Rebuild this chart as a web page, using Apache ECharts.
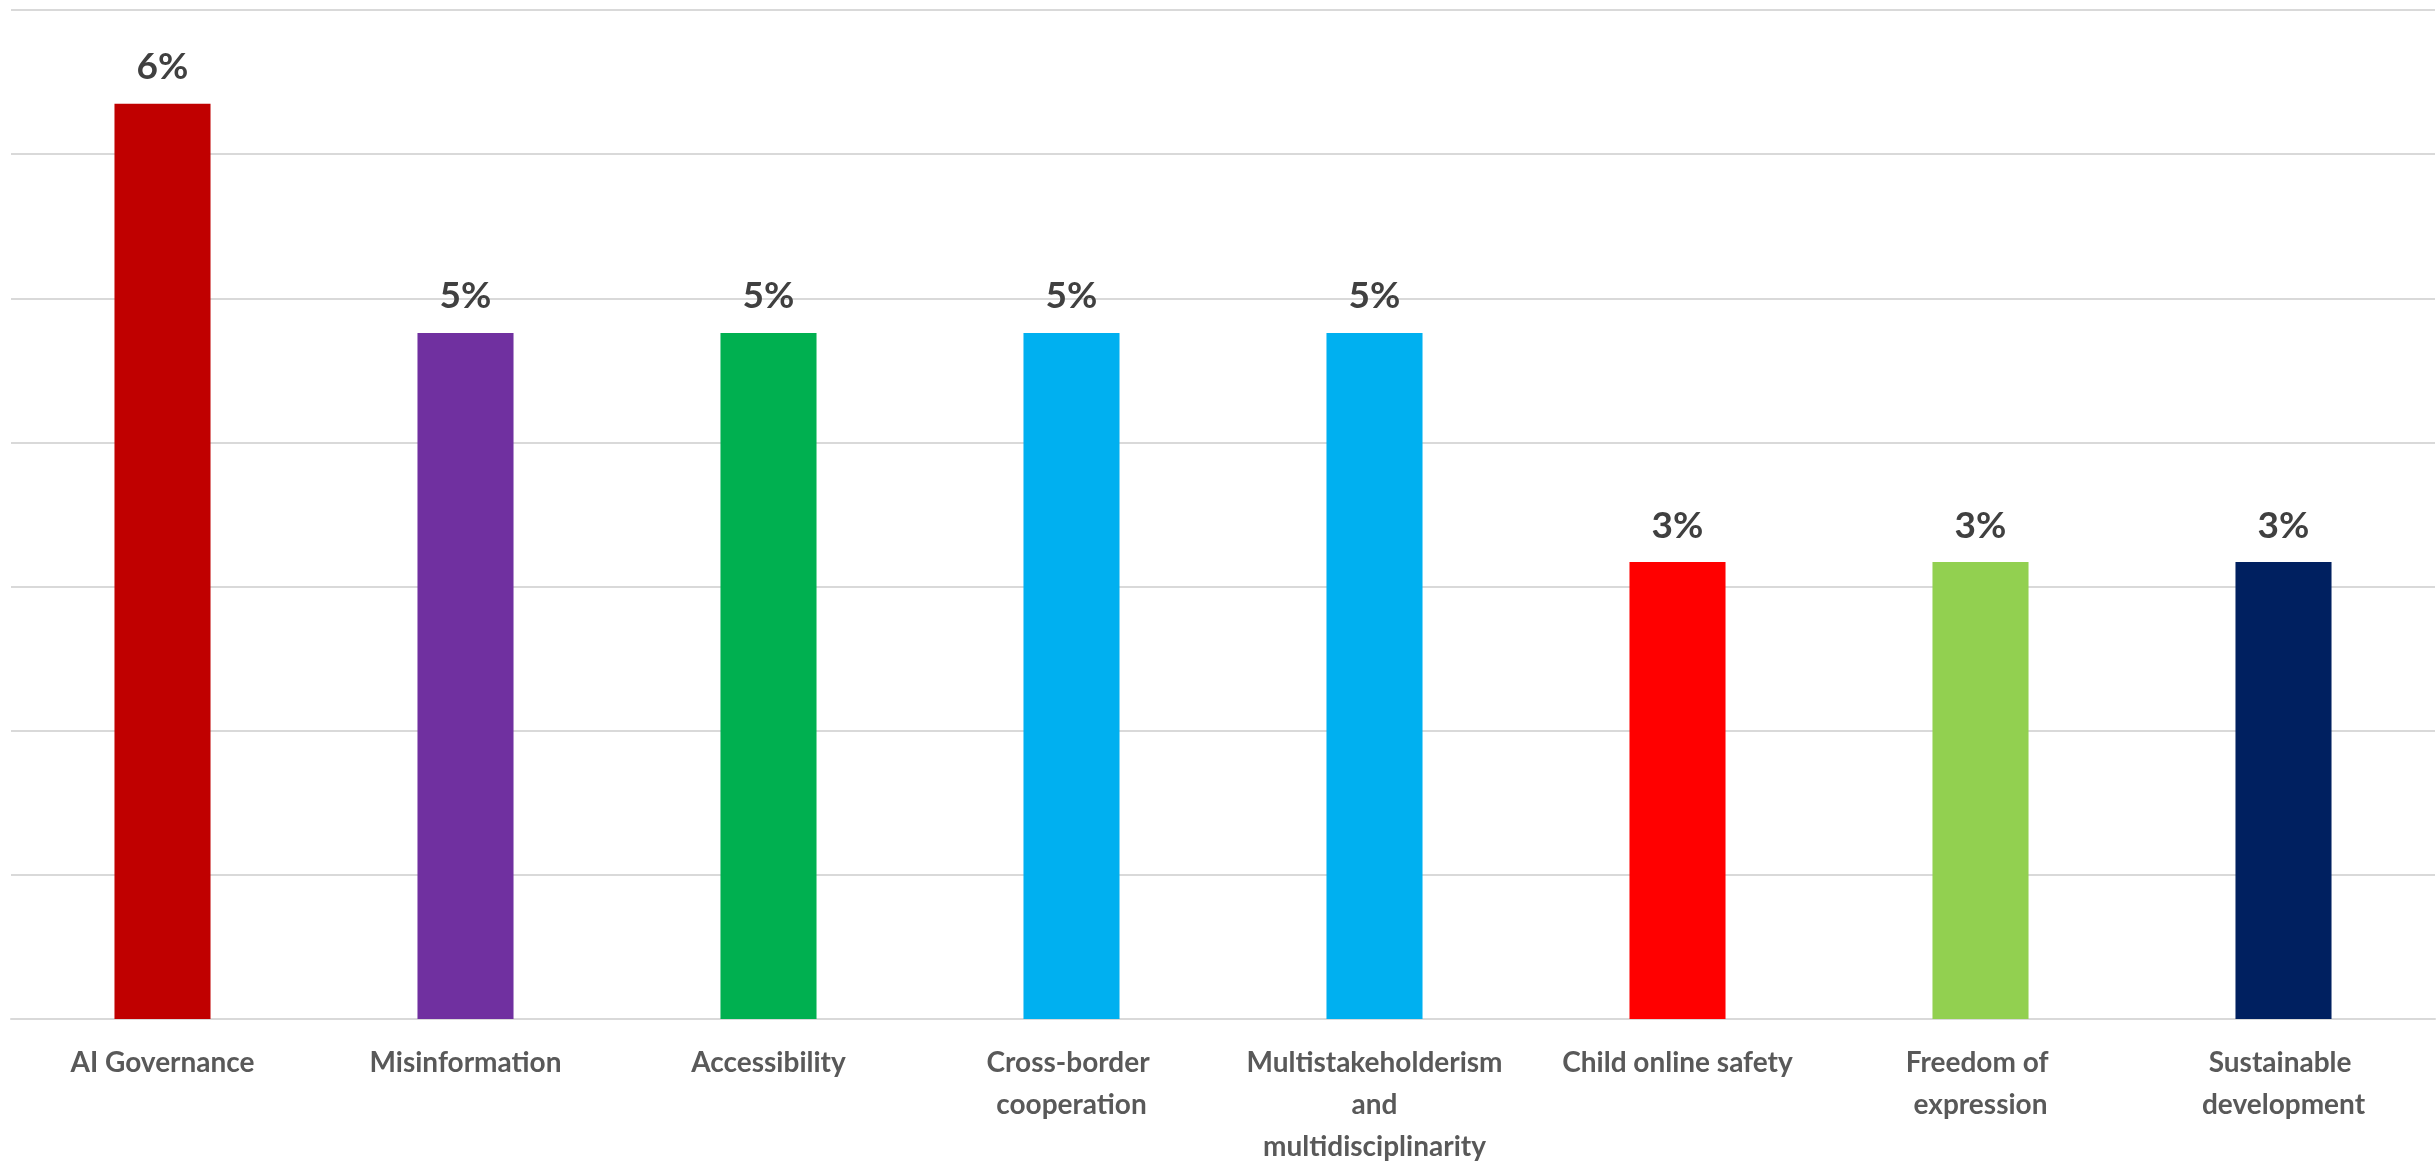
<!DOCTYPE html>
<html>
<head>
<meta charset="utf-8">
<script src="https://cdn.jsdelivr.net/npm/echarts@6/dist/echarts.min.js"></script>
<style>
html,body{margin:0;padding:0;background:#fff;}
#chart{width:2436px;height:1167px;}
</style>
</head>
<body>
<div id="chart"></div>
<script>
const categories = ["AI Governance", "Misinformation", "Accessibility", "Cross-border cooperation", "Multistakeholderism and multidisciplinarity", "Child online safety", "Freedom of expression", "Sustainable development"];
const shares = [0.0635, 0.0476, 0.0476, 0.0476, 0.0476, 0.0317, 0.0317, 0.0317];
const barColors = ["#C00000", "#7030A0", "#00B050", "#00B0F0", "#00B0F0", "#FF0000", "#92D050", "#002060"];

const font = 'Lato, "Open Sans", sans-serif';
const chart = echarts.init(document.getElementById('chart'));
chart.setOption({
  animation: false,
  grid: {left: 11, right: 1, top: 10, bottom: 148, containLabel: false, outerBoundsMode: 'none'},
  xAxis: {
    type: 'category',
    data: categories,
    axisLine: {lineStyle: {color: '#D9D9D9', width: 2}},
    axisTick: {show: false},
    axisLabel: {
      interval: 0,
      color: '#595959',
      fontWeight: 'bold',
      fontSize: 28,
      lineHeight: 42,
      fontFamily: font,
      width: 262,
      overflow: 'break',
      margin: 23
    }
  },
  yAxis: {
    type: 'value',
    min: 0, max: 0.07, interval: 0.01,
    axisLabel: {show: false},
    axisLine: {show: false},
    axisTick: {show: false},
    splitLine: {lineStyle: {color: '#D9D9D9', width: 2}}
  },
  series: [{
    type: 'bar',
    barWidth: '31.7%',
    data: shares.map((v, i) => ({value: v, itemStyle: {color: barColors[i]}})),
    label: {
      show: true,
      position: 'top',
      distance: 18,
      color: '#404040',
      fontWeight: 'bold',
      fontSize: 37,
      fontFamily: font,
      formatter: p => Math.round(p.value * 100) + '%'
    }
  }]
});
</script>
</body>
</html>
